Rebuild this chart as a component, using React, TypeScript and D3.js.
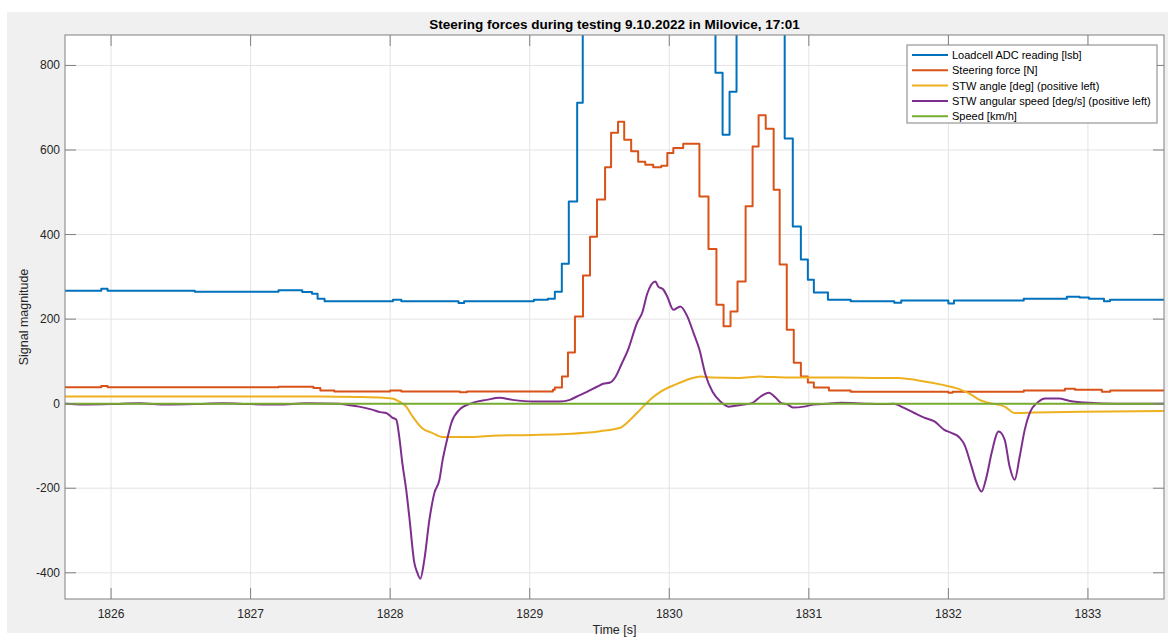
import React from "react";
import * as d3 from "d3";

const W = 1168;
const H = 638;

const TITLE = "Steering forces during testing 9.10.2022 in Milovice, 17:01";
const X_LABEL = "Time [s]";
const Y_LABEL = "Signal magnitude";
const X_DOMAIN: [number, number] = [1825.67, 1833.545];
const Y_DOMAIN: [number, number] = [-462, 872];
const X_TICKS = [1826, 1827, 1828, 1829, 1830, 1831, 1832, 1833];
const Y_TICKS = [-400, -200, 0, 200, 400, 600, 800];

// Loadcell ADC reading [lsb] (step signal)
const loadcell: [number, number][] = [
  [1825.655, 267], [1825.93, 272], [1825.975, 267], [1826.6, 265], [1827.2, 268],
  [1827.37, 264], [1827.44, 260], [1827.48, 248], [1827.53, 242], [1828.02, 246],
  [1828.08, 242], [1828.49, 238], [1828.53, 242], [1829.03, 246], [1829.13, 248],
  [1829.18, 265], [1829.23, 331], [1829.28, 478], [1829.34, 712], [1829.38, 960],
  [1829.45, 1150], [1830.1, 1050], [1830.331, 783], [1830.382, 636], [1830.432, 738],
  [1830.482, 980], [1830.6, 1100], [1830.827, 627], [1830.885, 419], [1830.943, 341],
  [1830.993, 293], [1831.036, 263], [1831.137, 246], [1831.3, 242], [1831.612, 239],
  [1831.662, 244], [1832.0, 237], [1832.04, 244], [1832.54, 248], [1832.849, 253],
  [1832.94, 251], [1833.007, 248], [1833.115, 242], [1833.158, 246], [1833.56, 246],
];

// Steering force [N] (step signal)
const steeringForce: [number, number][] = [
  [1825.655, 39], [1825.93, 42], [1825.975, 39], [1827.2, 40], [1827.45, 37],
  [1827.5, 31], [1827.6, 29], [1828.0, 31], [1828.08, 29], [1828.5, 27],
  [1828.55, 29], [1829.166, 33], [1829.18, 38], [1829.231, 64], [1829.274, 121],
  [1829.324, 206], [1829.382, 303], [1829.432, 395], [1829.482, 483], [1829.54, 559],
  [1829.583, 641], [1829.633, 667], [1829.677, 624], [1829.727, 597], [1829.777, 572],
  [1829.828, 565], [1829.885, 559], [1829.943, 563], [1829.986, 593], [1830.029, 605],
  [1830.1, 615], [1830.216, 490], [1830.281, 366], [1830.338, 234], [1830.389, 183],
  [1830.439, 218], [1830.489, 289], [1830.547, 467], [1830.597, 608], [1830.64, 682],
  [1830.691, 650], [1830.748, 506], [1830.791, 329], [1830.842, 175], [1830.892, 97],
  [1830.943, 64], [1830.993, 50], [1831.036, 38], [1831.144, 31], [1831.3, 28],
  [1832.0, 26], [1832.03, 28], [1832.54, 31], [1832.835, 35], [1832.907, 33],
  [1833.1, 28], [1833.16, 31], [1833.56, 31],
];

// STW angle [deg] (positive left)
const stwAngle: [number, number][] = [
  [1825.655, 17], [1827.5, 17], [1827.777, 16], [1827.95, 14], [1828.015, 12],
  [1828.065, 5], [1828.115, -7], [1828.16, -30], [1828.23, -58], [1828.3, -69],
  [1828.374, -79], [1828.54, -79], [1828.784, -75], [1829.022, -74], [1829.26, -72],
  [1829.4, -69], [1829.504, -65], [1829.648, -57], [1829.72, -38], [1829.792, -14],
  [1829.864, 10], [1829.936, 28], [1830.043, 45], [1830.151, 59], [1830.223, 64],
  [1830.3, 62], [1830.5, 61], [1830.65, 64], [1830.85, 62], [1831.23, 62],
  [1831.518, 61], [1831.64, 61], [1831.784, 55], [1831.95, 45], [1832.072, 35],
  [1832.166, 21], [1832.216, 10], [1832.288, 2], [1832.403, -7], [1832.475, -22],
  [1832.619, -21], [1832.957, -19], [1833.56, -17],
];

// STW angular speed [deg/s] (positive left)
const stwSpeed: [number, number][] = [
  [1825.655, 0], [1825.8, -2], [1826.0, -1], [1826.2, 1], [1826.4, -2], [1826.6, -1],
  [1826.8, 1], [1827.0, -1], [1827.2, -2], [1827.4, 1], [1827.633, 0], [1827.7, -3],
  [1827.777, -7], [1827.871, -14], [1827.93, -20], [1827.972, -22], [1828.015, -33],
  [1828.044, -38], [1828.065, -78], [1828.087, -140], [1828.115, -204], [1828.137, -267],
  [1828.173, -376], [1828.195, -400], [1828.216, -414], [1828.245, -369], [1828.281, -275],
  [1828.317, -211], [1828.353, -180], [1828.374, -137], [1828.403, -92], [1828.439, -45],
  [1828.497, -14], [1828.59, 2], [1828.691, 9], [1828.784, 14], [1828.878, 9],
  [1829.022, 5], [1829.216, 5], [1829.288, 9], [1829.338, 17], [1829.41, 28],
  [1829.482, 40], [1829.526, 47], [1829.576, 50], [1829.612, 62], [1829.66, 95],
  [1829.705, 128], [1829.77, 192], [1829.806, 215], [1829.842, 260], [1829.9, 289],
  [1829.921, 277], [1829.957, 270], [1829.986, 253], [1830.029, 222], [1830.079, 230],
  [1830.13, 206], [1830.173, 168], [1830.216, 128], [1830.259, 69], [1830.31, 28],
  [1830.367, 5], [1830.425, -7], [1830.511, -3], [1830.597, 2], [1830.655, 17],
  [1830.713, 26], [1830.763, 14], [1830.799, 2], [1830.849, -2], [1830.885, -9],
  [1830.964, -7], [1831.036, -2], [1831.137, 0], [1831.23, 2], [1831.4, 0],
  [1831.518, -1], [1831.612, 0], [1831.662, -7], [1831.756, -22], [1831.827, -33],
  [1831.9, -42], [1831.971, -62], [1832.022, -69], [1832.079, -80], [1832.115, -97],
  [1832.166, -149], [1832.202, -187], [1832.238, -208], [1832.274, -172], [1832.31, -116],
  [1832.36, -66], [1832.403, -85], [1832.439, -149], [1832.475, -180], [1832.511, -125],
  [1832.547, -62], [1832.583, -22], [1832.648, 5], [1832.691, 12], [1832.792, 12],
  [1832.864, 7], [1833.007, 2], [1833.2, 0], [1833.56, 0],
];

// Speed [km/h]
const speed: [number, number][] = [
  [1825.655, 0], [1827.0, 0], [1829.0, 0], [1831.0, 0], [1833.56, 0],
];

const SERIES = [
  { name: "Loadcell ADC reading [lsb]", data: loadcell, color: "#0072BD", step: true },
  { name: "Steering force [N]", data: steeringForce, color: "#D95319", step: true },
  { name: "STW angle [deg] (positive left)", data: stwAngle, color: "#EDB120", step: false },
  { name: "STW angular speed [deg/s] (positive left)", data: stwSpeed, color: "#7E2F8E", step: false },
  { name: "Speed [km/h]", data: speed, color: "#77AC30", step: false },
];

const M = { left: 65, top: 35, right: 1164, bottom: 599 };
const FONT = "'Liberation Sans', Arial, Helvetica, sans-serif";

export default function App() {
  const x = d3.scaleLinear().domain(X_DOMAIN).range([M.left, M.right]);
  const y = d3.scaleLinear().domain(Y_DOMAIN).range([M.bottom, M.top]);
  const tickLen = 11;
  const axisColor = "#808080";
  const textColor = "#262626";
  const gridColor = "#e3e3e3";

  const makeLine = (step: boolean) =>
    d3
      .line<[number, number]>()
      .x((d) => x(d[0]))
      .y((d) => y(d[1]))
      .curve(step ? d3.curveStepAfter : d3.curveMonotoneX);

  const legendX = 907;
  const legendY = 45;
  const legendW = 250;
  const legendH = 78;
  const rowH = 15.3;

  return (
    <div style={{ position: "absolute", left: 0, top: 0 }}>
      <svg width={W} height={H} style={{ display: "block" }} fontFamily={FONT}>
        <rect x={0} y={0} width={W} height={H} fill="#ffffff" />
        <rect x={7} y={12} width={W - 7} height={621} fill="#f0f0f0" />
        <rect x={M.left} y={M.top} width={M.right - M.left} height={M.bottom - M.top} fill="#ffffff" />
        <defs>
          <clipPath id="plotclip">
            <rect x={M.left} y={M.top} width={M.right - M.left} height={M.bottom - M.top} />
          </clipPath>
        </defs>
        {/* grid */}
        <g stroke={gridColor} strokeWidth={1}>
          {X_TICKS.map((t) => (
            <line key={"gx" + t} x1={x(t)} x2={x(t)} y1={M.top} y2={M.bottom} />
          ))}
          {Y_TICKS.map((t) => (
            <line key={"gy" + t} x1={M.left} x2={M.right} y1={y(t)} y2={y(t)} />
          ))}
        </g>
        {/* data */}
        <g clipPath="url(#plotclip)" fill="none" strokeWidth={2} strokeLinejoin="round">
          {SERIES.map((s) => (
            <path key={s.name} d={makeLine(s.step)(s.data) || ""} stroke={s.color} />
          ))}
        </g>
        {/* ticks */}
        <g stroke={axisColor} strokeWidth={1}>
          {X_TICKS.map((t) => (
            <g key={"tx" + t}>
              <line x1={x(t)} x2={x(t)} y1={M.bottom} y2={M.bottom - tickLen} />
              <line x1={x(t)} x2={x(t)} y1={M.top} y2={M.top + tickLen} />
            </g>
          ))}
          {Y_TICKS.map((t) => (
            <g key={"ty" + t}>
              <line x1={M.left} x2={M.left + tickLen} y1={y(t)} y2={y(t)} />
              <line x1={M.right} x2={M.right - tickLen} y1={y(t)} y2={y(t)} />
            </g>
          ))}
        </g>
        {/* box */}
        <rect
          x={M.left}
          y={M.top}
          width={M.right - M.left}
          height={M.bottom - M.top}
          fill="none"
          stroke={axisColor}
          strokeWidth={1}
        />
        {/* tick labels */}
        <g fontSize={12} fill={textColor}>
          {X_TICKS.map((t) => (
            <text key={"lx" + t} x={x(t)} y={618} textAnchor="middle">
              {String(t)}
            </text>
          ))}
          {Y_TICKS.map((t) => (
            <text key={"ly" + t} x={60} y={y(t) + 4} textAnchor="end">
              {String(t)}
            </text>
          ))}
        </g>
        {/* axis labels */}
        <text x={(M.left + M.right) / 2} y={634} textAnchor="middle" fontSize={12.5} fill={textColor}>
          {X_LABEL}
        </text>
        <text
          transform={`translate(28, ${(M.top + M.bottom) / 2}) rotate(-90)`}
          textAnchor="middle"
          fontSize={12.5}
          fill={textColor}
        >
          {Y_LABEL}
        </text>
        {/* title */}
        <text
          x={(M.left + M.right) / 2}
          y={29}
          textAnchor="middle"
          fontSize={13.5}
          fontWeight="bold"
          fill="#000000"
        >
          {TITLE}
        </text>
        {/* legend */}
        <g>
          <rect x={legendX} y={legendY} width={legendW} height={legendH} fill="#ffffff" stroke="#808080" strokeWidth={1} />
          {SERIES.map((s, i) => {
            const cy = legendY + 10 + i * rowH;
            return (
              <g key={"lg" + s.name}>
                <line x1={legendX + 5} x2={legendX + 41} y1={cy} y2={cy} stroke={s.color} strokeWidth={2} />
                <text x={legendX + 45} y={cy + 4} fontSize={11} fill="#000000">
                  {s.name}
                </text>
              </g>
            );
          })}
        </g>
      </svg>
    </div>
  );
}
